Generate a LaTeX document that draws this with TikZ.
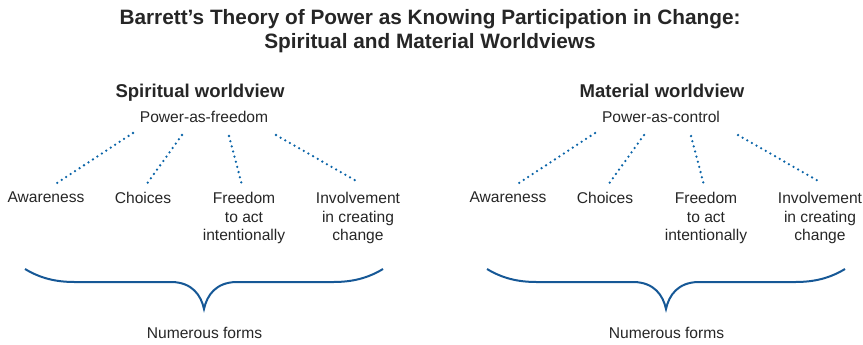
\documentclass[tikz,border=0pt]{standalone}
\usepackage{fontspec}
\setmainfont{Liberation Sans}
\usetikzlibrary{calc}

\definecolor{dotblue}{RGB}{10,100,168}
\definecolor{braceblue}{RGB}{22,88,150}
\definecolor{ink}{RGB}{38,38,38}

\begin{document}
\begin{tikzpicture}[
        x=0.75pt, y=-0.75pt,
        every node/.style={inner sep=0pt, text=ink},
        title/.style={font=\fontsize{15.6}{18}\selectfont\bfseries, align=center},
        head/.style={font=\fontsize{13.9}{16}\selectfont\bfseries},
        label/.style={font=\fontsize{11.7}{14.2}\selectfont, align=center},
        dots/.style={draw=dotblue, line width=1.9pt, line cap=round, dash pattern=on 0pt off 4pt},
        brace/.style={draw=braceblue, line width=1.5pt}
    ]
        \useasboundingbox (0,0) rectangle (863,344);
        \node[title, anchor=base] (title) at (430,48)
            {Barrett’s Theory of Power as Knowing Participation in Change:\\Spiritual and Material Worldviews};

        % one panel for each worldview
        \foreach \sx/\nm/\hd/\pw/\px in {0/sp/Spiritual worldview/Power-as-freedom/204,
                                        462/ma/Material worldview/Power-as-control/199} {
            \node[head, anchor=base] (\nm-head) at (\sx+200,97.5) {\hd};
            \node[label, anchor=base] (\nm-pw) at (\sx+\px,122) {\pw};
            \coordinate (\nm-hub) at (\sx+204.5,134);

            \node[label, anchor=north] (\nm-aw) at (\sx+46,191.5) {Awareness};
            \node[label, anchor=north] (\nm-ch) at (\sx+143,191.5) {Choices};
            \node[label, anchor=north] (\nm-fr) at (\sx+244,191.5) {Freedom\\to act\\intentionally};
            \node[label, anchor=north] (\nm-in) at (\sx+358,191.5) {Involvement\\in creating\\change};

            \draw[dots] ($(\nm-hub)+(-71.5,-1)$) -- ($(\nm-aw.north)+(8,-6.5)$);
            \draw[dots] ($(\nm-hub)+(-22.5,1)$) -- ($(\nm-ch.north)+(3,-6.5)$);
            \draw[dots] ($(\nm-hub)+(24.5,2)$) -- ($(\nm-fr.north)+(-2,-6.5)$);
            \draw[dots] ($(\nm-hub)+(71.5,1)$) -- ($(\nm-in.north)+(0,-9.5)$);

            \node[label, anchor=base] (\nm-forms) at (\sx+204.5,338) {Numerous forms};
            \draw[brace] (\sx+25,269) .. controls (\sx+40,278) and (\sx+55,282) .. (\sx+75,282)
                -- (\sx+172,282) .. controls (\sx+192,282.5) and (\sx+201,295) .. (\sx+204,309)
                .. controls (\sx+207,295) and (\sx+216,282.5) .. (\sx+236,282)
                -- (\sx+333,282) .. controls (\sx+353,282) and (\sx+368,278) .. (\sx+383,269);
        }
    \end{tikzpicture}
\end{document}
